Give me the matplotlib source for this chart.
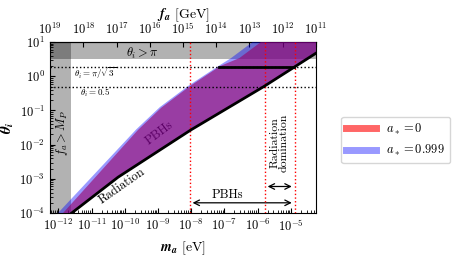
import numpy as np
import matplotlib
matplotlib.use('Agg')
import matplotlib.pyplot as plt
from matplotlib.lines import Line2D
from matplotlib.ticker import LogLocator, NullFormatter

plt.rcParams['font.family'] = 'cmr10'
plt.rcParams['mathtext.fontset'] = 'cm'
plt.rcParams['axes.formatter.use_mathtext'] = True
plt.rcParams['axes.unicode_minus'] = False

# radiation-domination line (log10 m_a [eV], log10 theta_i)
log_m_rad = [-11.60, -10.20, -8.01, -5.81, -4.91, -4.20]
log_th_rad = [-4.00, -2.95, -1.57, -0.30, 0.258, 0.70]

# upper edge of the PBH region, a* = 0 and a* = 0.999
log_m_up0 = [-11.86, -9.60, -8.90, -8.04, -7.12, -6.55, -5.90]
log_th_up0 = [-4.00, -1.57, -0.92, -0.29, 0.30, 0.53, 1.00]
log_m_up1 = [-12.01, -9.65, -8.94, -8.07, -7.16, -6.80, -6.15]
log_th_up1 = [-4.00, -1.55, -0.90, -0.27, 0.31, 0.53, 1.00]

# markers
m_lo, m_hi = 5.6e-13, 5.75e-5
th_lo, th_hi = 1e-4, 10
m_planck = 5.7e6 / 2.4e18
theta_lines = [np.pi / np.sqrt(3), 0.5]
m_red = [9.1e-9, 1.66e-6, 1.3e-5]
m_hline = [10 ** -7.15, 10 ** -4.91]


def to_f(m):
    return 5.7e6 / m


fig = plt.figure(figsize=(4.54, 2.58), dpi=100)
ax = fig.add_axes([0.110, 0.174, 0.586, 0.663])
ax.set_xscale('log')
ax.set_yscale('log')
ax.set_xlim(m_lo, m_hi)
ax.set_ylim(th_lo, th_hi)

# excluded bands
ax.axvspan(m_lo, m_planck, color='k', alpha=0.3, lw=0, zorder=1)
ax.axhspan(np.pi, th_hi, color='k', alpha=0.3, lw=0, zorder=1)

# text under the fills
ax.text(10 ** -8.95, 10 ** -1.66, 'PBHs', rotation=37, fontsize=9,
        ha='center', va='center', zorder=2)


def region(log_m_up, log_th_up):
    xs = list(log_m_up) + [np.log10(m_hi), np.log10(m_hi)]
    ys = list(log_th_up) + [1.0, log_th_rad[-1]]
    xs += log_m_rad[::-1]
    ys += log_th_rad[::-1]
    return np.power(10.0, xs), np.power(10.0, ys)


x0, y0 = region(log_m_up0, log_th_up0)
x1, y1 = region(log_m_up1, log_th_up1)
ax.fill(x0, y0, color='red', alpha=0.6, lw=0, zorder=3)
ax.fill(x1, y1, color='blue', alpha=0.4, lw=0, zorder=3)

# lines
ax.plot(np.power(10.0, log_m_rad), np.power(10.0, log_th_rad), 'k-', lw=2, zorder=5)
ax.plot(m_hline, [theta_lines[0]] * 2, 'k-', lw=2, zorder=5)
for th in theta_lines:
    ax.axhline(th, color='k', ls=':', lw=1, zorder=4)
for m in m_red:
    ax.axvline(m, color='red', ls=':', lw=1, zorder=4)

# labels in the plot
ax.text(10 ** -9.48, 4.6, r'$\theta_i > \pi$', fontsize=9, ha='center', va='center')
ax.text(10 ** -10.9, 1.25, r'$\theta_i = \pi/\sqrt{3}$', fontsize=6.5, ha='center', va='center')
ax.text(10 ** -10.9, 0.34, r'$\theta_i = 0.5$', fontsize=6.5, ha='center', va='center')
ax.text(10 ** -11.89, 10 ** -1.65, r'$f_a > M_P$', rotation=90, fontsize=9,
        ha='center', va='center')
ax.text(10 ** -10.1, 10 ** -3.2, 'Radiation', rotation=35, fontsize=9,
        ha='center', va='center', zorder=6)

ax.annotate('', xy=(m_red[0], 2.0e-4), xytext=(m_red[2], 2.0e-4),
            arrowprops=dict(arrowstyle='<->', color='k', lw=0.9))
ax.text(10 ** -6.9, 3.3e-4, 'PBHs', fontsize=9, ha='center', va='center')
ax.annotate('', xy=(m_red[1], 6.0e-4), xytext=(m_red[2], 6.0e-4),
            arrowprops=dict(arrowstyle='<->', color='k', lw=0.9))
ax.text(10 ** -5.35, 10 ** -1.95, 'Radiation\ndomination', rotation=90, fontsize=8.5,
        ha='center', va='center', linespacing=0.9)

ax.xaxis.set_major_locator(LogLocator(base=10, numticks=20))
ax.xaxis.set_minor_locator(LogLocator(base=10, subs=np.arange(2, 10), numticks=20))
ax.xaxis.set_minor_formatter(NullFormatter())
ax.tick_params(which='both', direction='in', labelsize=9, top=False)
ax.set_xlabel(r'$\mathbfit{m_a}$ [eV]', fontsize=10, labelpad=4, math_fontfamily='stix')
ax.set_ylabel(r'$\mathbfit{\theta_i}$', fontsize=11, labelpad=2, math_fontfamily='stix')

sec = ax.secondary_xaxis('top', functions=(to_f, to_f))
sec.set_xticks([10.0 ** k for k in range(11, 20)])
sec.xaxis.set_minor_formatter(NullFormatter())
sec.tick_params(which='both', direction='in', labelsize=9)
sec.set_xlabel(r'$\mathbfit{f_a}$ [GeV]', fontsize=10, labelpad=2, math_fontfamily='stix')

handles = [Line2D([], [], color='red', alpha=0.6, lw=5),
           Line2D([], [], color='blue', alpha=0.4, lw=5)]
fig.legend(handles, [r'$a_* = 0$', r'$a_* = 0.999$'], loc='center',
           bbox_to_anchor=(0.872, 0.457), fontsize=9, handlelength=2.4,
           frameon=True, fancybox=True)

fig.savefig('out.png', dpi=100)
